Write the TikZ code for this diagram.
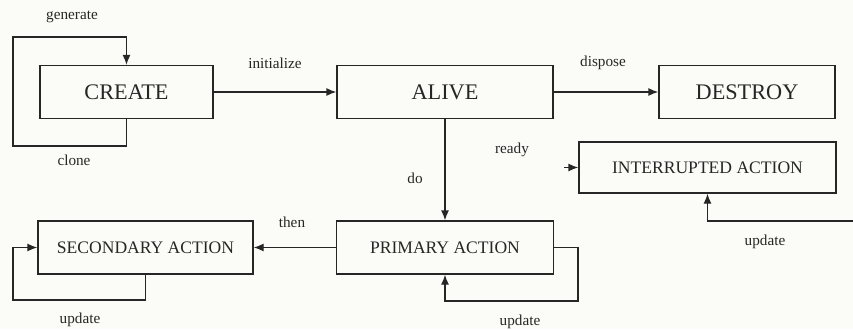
\documentclass[tikz,border=0pt]{standalone}
\usepackage{fontspec}
\setmainfont{Liberation Serif}
\usetikzlibrary{arrows.meta,positioning}
\definecolor{paper}{HTML}{FBFBF7}
\definecolor{ink}{HTML}{262626}

\begin{document}
\begin{tikzpicture}[
  x=0.03cm,y=-0.03cm,
  flow/.style={-{Latex[length=3mm,width=2.4mm]},line width=1.1pt,draw=ink},
  box/.style={draw=ink,line width=1.1pt,minimum height=1.59cm,inner sep=0pt,
    text=ink,font=\fontsize{15}{17}\selectfont},
  word/.style={box,font=\fontsize{19}{21}\selectfont},
  lbl/.style={text=ink,inner sep=1pt,font=\fontsize{13}{15}\selectfont}
]
\fill[paper] (0,0) rectangle (853,329);
\useasboundingbox (0,0) rectangle (853,329);

\node[word,minimum width=5.19cm] (create) at (126.5,92) {CREATE};
\node[word,minimum width=6.48cm] (alive) at (445,92) {ALIVE};
\node[word,minimum width=5.28cm] (destroy) at (747,92) {DESTROY};
\node[box,minimum width=7.71cm,minimum height=1.53cm] (interrupted) at (707.5,167.5)
  {INTERRUPTED ACTION};
\node[box,minimum width=6.51cm] (primary) at (445,247.5) {PRIMARY ACTION};
\node[box,minimum width=6.45cm] (secondary) at (145.5,247.5) {SECONDARY ACTION};

% corners of the loops and the free ends
\coordinate (cbot) at (13,146);
\coordinate (ctop) at (13,37);
\coordinate (sbot) at (13,300);
\coordinate (pbot) at (578,301);
\coordinate (iend) at (853,221);
\coordinate (istub) at (564,167.5);

\draw[flow] (create) -- (alive);
\draw[flow] (alive) -- (destroy);
\draw[flow] (alive) -- (primary);
\draw[flow] (primary) -- (secondary);
\draw[flow] (create.south) |- (cbot) -- (ctop) -| (create.north);
\draw[flow] (secondary.south) |- (sbot) |- (secondary.west);
\draw[flow] (primary.east) -| (pbot) -| (primary.south);
\draw[flow] (iend) -| (interrupted.south);
\draw[flow] (istub) -- (interrupted.west);

\node[lbl] (generate) at (72,17) {generate};
\node[lbl] (clone) at (74,160) {clone};
\node[lbl] (initialize) at (275,63) {initialize};
\node[lbl] (dispose) at (603,63) {dispose};
\node[lbl] (do) at (415,178) {do};
\node[lbl] (ready) at (512,150) {ready};
\node[lbl] (then) at (292,222) {then};
\node[lbl] (upsec) at (80,320) {update};
\node[lbl] (upprim) at (520,322) {update};
\node[lbl] (upint) at (765,242) {update};
\end{tikzpicture}
\end{document}
